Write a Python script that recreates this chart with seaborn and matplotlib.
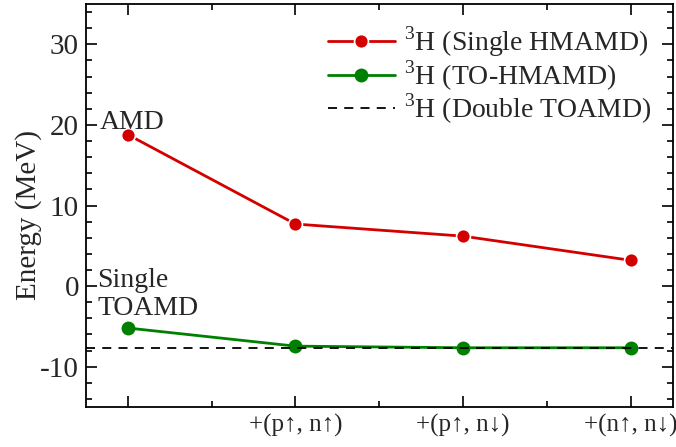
import pandas as pd
import matplotlib.pyplot as plt
import seaborn as sns
from matplotlib.ticker import MultipleLocator

# configurations added on top of the initial AMD state
configs = ["", "+(p↑, n↑)", "+(p↑, n↓)", "+(n↑, n↓)"]
single_hmamd = [18.8, 7.7, 6.2, 3.2]
to_hmamd = [-5.2, -7.45, -7.65, -7.65]
double_toamd = -7.7


def main():
    sns.set_style("ticks")
    plt.rcParams['font.family'] = ['Liberation Serif', 'DejaVu Serif']
    plt.rcParams['mathtext.fontset'] = 'custom'
    plt.rcParams['mathtext.rm'] = 'Liberation Serif'
    plt.rcParams['axes.unicode_minus'] = False
    plt.rcParams['xtick.direction'] = 'in'
    plt.rcParams['ytick.direction'] = 'in'

    df = pd.DataFrame({
        'pos': list(range(len(configs))) * 2,
        'energy': single_hmamd + to_hmamd,
        'model': ['single'] * 4 + ['to'] * 4,
    })

    fig, ax = plt.subplots(figsize=(6.76, 4.47), dpi=100)

    sns.lineplot(data=df[df['model'] == 'single'], x='pos', y='energy', ax=ax,
                 color='#d40000', lw=2, marker='o', markersize=10,
                 markeredgecolor='white', markeredgewidth=1.2,
                 label=r'$^{3}$H (Single HMAMD)')
    sns.lineplot(data=df[df['model'] == 'to'], x='pos', y='energy', ax=ax,
                 color='#008000', lw=2, marker='o', markersize=10,
                 markeredgecolor='#008000', markeredgewidth=0,
                 label=r'$^{3}$H (TO-HMAMD)')
    ax.axhline(double_toamd, color='black', lw=1.3, ls=(0, (5, 4)),
               label=r'$^{3}$H (Double TOAMD)')

    ax.set_xlim(-0.25, 3.25)
    ax.set_ylim(-15, 35)
    ax.set_xticks(range(len(configs)))
    ax.set_xticklabels(configs, fontsize=18)
    ax.xaxis.set_minor_locator(MultipleLocator(0.5))
    ax.yaxis.set_major_locator(MultipleLocator(10))
    ax.yaxis.set_minor_locator(MultipleLocator(2))
    ax.tick_params(axis='y', labelsize=21)
    ax.tick_params(which='both', top=True, right=True, width=1.2, color='black')
    ax.tick_params(which='major', length=8, pad=5)
    ax.tick_params(which='minor', length=4)
    ax.set_xlabel('')
    ax.set_ylabel('Energy (MeV)', fontsize=21)
    ax.yaxis.set_label_coords(-0.075, 0.476)
    for s in ax.spines.values():
        s.set_linewidth(1.3)
        s.set_color('black')

    ax.text(-0.17, 19.5, 'AMD', fontsize=20)
    ax.text(-0.18, -0.1, 'Single', fontsize=20)
    ax.text(-0.18, -3.6, 'TOAMD', fontsize=20)

    ax.legend(loc='upper right', frameon=False, fontsize=20, handlelength=2.4,
              handletextpad=0.35, labelspacing=-0.03, borderaxespad=0.35)

    fig.subplots_adjust(left=0.127, right=0.995, top=0.991, bottom=0.0895)
    fig.savefig('out.png', dpi=100)


if __name__ == '__main__':
    main()
